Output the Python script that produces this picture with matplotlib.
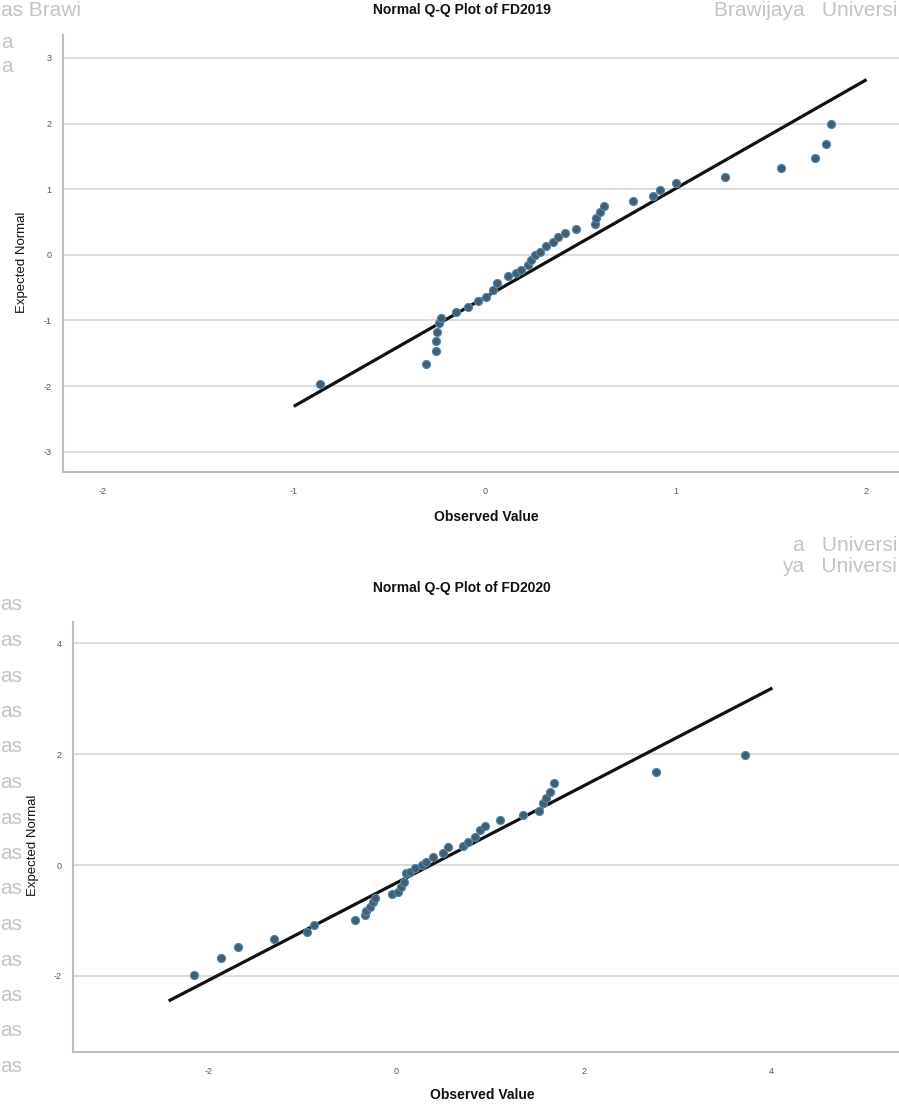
import matplotlib
matplotlib.use('Agg')
import matplotlib.pyplot as plt

plt.rcParams['font.family'] = ['Liberation Sans', 'DejaVu Sans']
plt.rcParams['axes.unicode_minus'] = False

fd2019_obs = [-0.86, -0.305, -0.257, -0.257, -0.25, -0.24, -0.227, -0.148, -0.087, -0.035,
              0.009, 0.043, 0.066, 0.122, 0.166, 0.192, 0.227, 0.244, 0.262, 0.288,
              0.323, 0.358, 0.384, 0.419, 0.476, 0.576, 0.585, 0.602, 0.623, 0.776,
              0.881, 0.92, 1.004, 1.257, 1.55, 1.73, 1.79, 1.815]
fd2019_exp = [-1.97, -1.67, -1.46, -1.31, -1.17, -1.04, -0.96, -0.87, -0.80, -0.71,
              -0.64, -0.53, -0.43, -0.33, -0.28, -0.23, -0.15, -0.08, 0.0, 0.05,
              0.13, 0.20, 0.27, 0.33, 0.40, 0.47, 0.56, 0.66, 0.74, 0.82,
              0.89, 0.99, 1.10, 1.19, 1.33, 1.48, 1.69, 2.00]
fd2019_line_x = [-1.0, 2.0]
fd2019_line_y = [-2.31, 2.67]

# FD2020
fd2020_obs = [-2.16, -1.875, -1.69, -1.31, -0.95, -0.88, -0.44, -0.34, -0.32, -0.28,
              -0.25, -0.23, -0.05, 0.02, 0.05, 0.08, 0.10, 0.14, 0.20, 0.27,
              0.32, 0.39, 0.50, 0.55, 0.71, 0.76, 0.84, 0.89, 0.94, 1.10,
              1.35, 1.52, 1.56, 1.60, 1.64, 1.68, 2.77, 3.72]
fd2020_exp = [-1.99, -1.68, -1.48, -1.33, -1.20, -1.08, -0.99, -0.90, -0.82, -0.75,
              -0.67, -0.60, -0.52, -0.48, -0.39, -0.30, -0.15, -0.12, -0.06, 0.0,
              0.06, 0.15, 0.21, 0.32, 0.34, 0.42, 0.51, 0.63, 0.70, 0.81,
              0.90, 0.98, 1.11, 1.20, 1.32, 1.47, 1.67, 1.98]
fd2020_line_x = [-2.43, 4.01]
fd2020_line_y = [-2.45, 3.19]

fd2019_xticks = [-2, -1, 0, 1, 2]
fd2019_yticks = [-3, -2, -1, 0, 1, 2, 3]
fd2020_xticks = [-2, 0, 2, 4]
fd2020_yticks = [-2, 0, 2, 4]

W, H = 899, 1106
fig = plt.figure(figsize=(W / 100, H / 100), dpi=100)
fig.patch.set_facecolor('white')

WM = '#c4c4c4'
# watermark fragments behind the charts
for txt, x, y, ha in [('as Brawi', 1, 10, 'left'), ('Brawijaya   Universi', 897, 10, 'right'),
                      ('a', 1, 42, 'left'), ('a', 1, 66, 'left'),
                      ('a   Universi', 897, 545, 'right'), ('ya   Universi', 897, 567, 'right')]:
    fig.text(x / W, 1 - y / H, txt, ha=ha, va='center', fontsize=15, color=WM, zorder=-2)
for k in range(14):
    y = 605 + 35.5 * k
    fig.text(22 / W, 1 - y / H, 'as', ha='right', va='center', fontsize=15, color=WM, zorder=-2)


def panel(ax, obs, exp, lx, ly, xlim, ylim, xt, yt):
    ax.set_facecolor('white')
    for v in yt:
        ax.axhline(v, color='#dcdcdc', lw=1.4, zorder=0)
    ax.plot(lx, ly, color='#111111', lw=2.3, zorder=2, solid_capstyle='butt')
    ax.scatter(obs, exp, s=34, facecolor='#4a5c69', edgecolor='#4a8bb5', linewidths=0.8, zorder=3)
    ax.set_xlim(*xlim)
    ax.set_ylim(*ylim)
    ax.set_xticks(xt)
    ax.set_yticks(yt)
    ax.tick_params(length=0, labelsize=6.5, labelcolor='#555555')
    ax.tick_params(axis='x', pad=11)
    ax.tick_params(axis='y', pad=8)
    for s in ['top', 'right']:
        ax.spines[s].set_visible(False)
    for s in ['left', 'bottom']:
        ax.spines[s].set_color('#bdbdbd')
        ax.spines[s].set_linewidth(1.5)


ax1 = fig.add_axes([62.7 / W, 1 - 472 / H, 1 - 62.7 / W, (472 - 35) / H])
panel(ax1, fd2019_obs, fd2019_exp, fd2019_line_x, fd2019_line_y,
      (-2.21, 2.17), (-3.31, 3.35), fd2019_xticks, fd2019_yticks)

ax2 = fig.add_axes([73 / W, 1 - 1052 / H, 1 - 73 / W, (1052 - 622) / H])
panel(ax2, fd2020_obs, fd2020_exp, fd2020_line_x, fd2020_line_y,
      (-3.45, 5.36), (-3.37, 4.38), fd2020_xticks, fd2020_yticks)

fig.text(462 / W, 1 - 10 / H, 'Normal Q-Q Plot of FD2019', ha='center', va='center',
         fontsize=10, fontweight='bold', color='#111111')
fig.text(462 / W, 1 - 588 / H, 'Normal Q-Q Plot of FD2020', ha='center', va='center',
         fontsize=10, fontweight='bold', color='#111111')
fig.text(486 / W, 1 - 517 / H, 'Observed Value', ha='center', va='center',
         fontsize=10, fontweight='bold', color='#111111')
fig.text(482 / W, 1 - 1095 / H, 'Observed Value', ha='center', va='center',
         fontsize=10, fontweight='bold', color='#111111')
fig.text(22 / W, 1 - 262 / H, 'Expected Normal', ha='center', va='center', rotation=90,
         fontsize=9.5, color='#111111')
fig.text(33 / W, 1 - 845 / H, 'Expected Normal', ha='center', va='center', rotation=90,
         fontsize=9.5, color='#111111')

fig.savefig('out.png', dpi=100, facecolor='white')
